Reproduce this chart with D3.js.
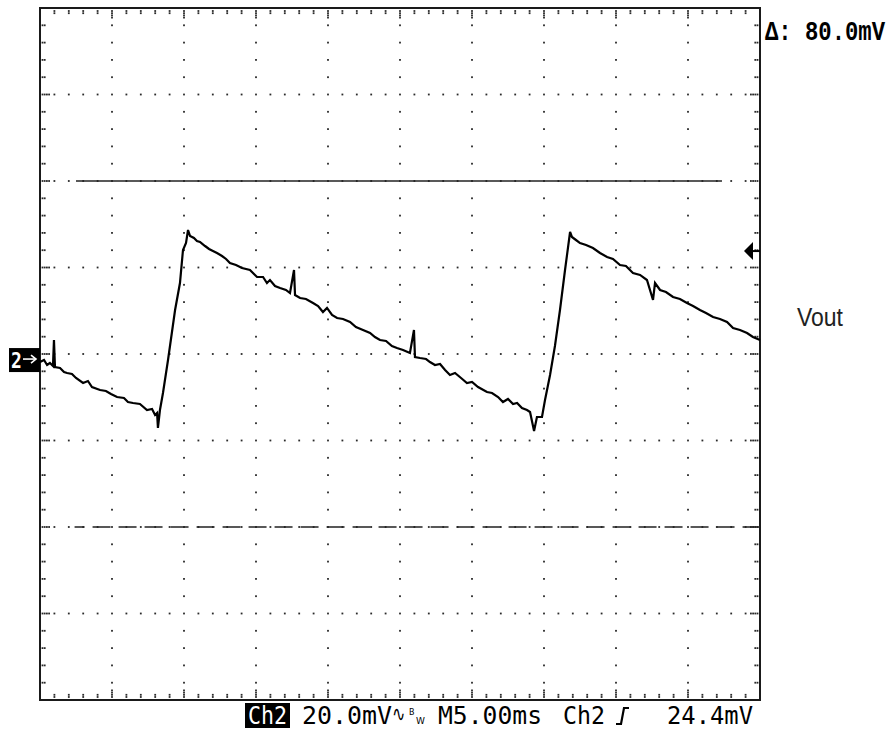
<!DOCTYPE html>
<html>
<head>
<meta charset="utf-8">
<script src="https://cdn.jsdelivr.net/npm/d3@7"></script>
<style>
  html, body { margin: 0; padding: 0; background: #ffffff; }
  svg { display: block; }
</style>
</head>
<body>
<svg id="chart" width="893" height="732"></svg>
<script>
// ---------------- DATA ----------------
// time axis (ms) : 10 divisions of 5 ms ; voltage axis (mV) : 8 divisions of 20 mV
const timeDomain = [0, 50];
const voltDomain = [-80, 80];
const timePerDiv = 5;
const voltPerDiv = 20;
const minorPerDiv = 5;

// Vout trace: [time ms, voltage mV]
const traceTime = [
  0, 0.28, 0.49, 0.69, 0.90, 0.97, 1.04, 1.39, 1.67, 1.88, 2.22, 2.50, 2.99, 3.33, 3.61, 4.17, 4.58, 4.93, 5.35, 5.83,
  6.11, 6.46, 6.94, 7.43, 7.78, 7.99, 8.13, 8.19, 8.33, 8.54, 8.89, 9.38, 9.72, 9.93, 10.14, 10.28, 10.42, 10.69, 10.90, 11.11,
  11.46, 11.74, 12.01, 12.29, 12.64, 12.92, 13.19, 13.61, 14.03, 14.58, 15.07, 15.49, 15.76, 15.97, 16.32, 16.67, 17.08, 17.36, 17.64, 17.71,
  18.06, 18.47, 18.96, 19.31, 19.65, 19.93, 20.28, 20.63, 21.04, 21.53, 21.94, 22.43, 22.92, 23.26, 23.61, 24.03, 24.44, 24.79, 25.21, 25.69,
  25.97, 26.04, 26.39, 26.81, 27.08, 27.43, 27.78, 28.13, 28.47, 28.82, 29.24, 29.65, 30.00, 30.42, 31.04, 31.39, 31.81, 32.15, 32.50, 32.85,
  33.13, 33.47, 33.82, 34.03, 34.31, 34.51, 34.86, 35.07, 35.42, 35.76, 36.11, 36.46, 36.81, 36.94, 37.22, 37.50, 37.92, 38.40, 38.89, 39.38,
  39.79, 40.28, 40.69, 41.18, 41.67, 42.15, 42.57, 42.71, 43.06, 43.47, 43.96, 44.44, 44.93, 45.35, 45.83, 46.25, 46.74, 47.22, 47.71, 48.13,
  48.61, 49.10, 49.51, 50.00
];
const traceVolt = [
  -1.85, -1.39, -2.54, -2.08, -2.77, 3.24, -3.01, -3.24, -4.16, -4.39, -4.62, -5.55, -6.71, -6.24, -7.63, -8.32, -8.55, -9.25, -9.94, -10.17,
  -11.10, -11.33, -11.56, -12.95, -12.72, -14.10, -13.64, -17.11, -12.95, -9.02, -1.39, 10.17, 16.42, 24.05, 25.66, 28.67, 27.28, 26.82, 26.13, 25.90,
  24.97, 24.28, 23.82, 23.35, 22.66, 21.97, 21.04, 20.58, 19.88, 19.42, 17.80, 17.80, 16.42, 17.11, 15.72, 15.26, 14.80, 14.10, 19.42, 13.64,
  12.95, 12.72, 11.79, 11.10, 9.71, 10.64, 9.02, 8.32, 8.09, 7.40, 6.24, 5.55, 4.86, 3.93, 3.24, 3.01, 1.85, 1.39, 0.92, 0.23,
  5.55, -0.69, -0.92, -1.16, -1.85, -2.54, -2.31, -3.70, -4.86, -4.39, -5.55, -6.71, -6.47, -7.63, -8.79, -9.02, -9.94, -11.10, -10.40, -11.56,
  -11.33, -12.49, -12.95, -13.41, -17.80, -14.57, -14.57, -10.64, -4.86, 1.85, 10.17, 19.42, 28.21, 27.05, 26.36, 25.66, 25.20, 24.51, 23.35, 22.43,
  21.97, 20.58, 20.35, 18.73, 18.27, 17.11, 12.49, 16.42, 14.80, 14.34, 13.18, 12.72, 11.79, 11.10, 10.17, 9.48, 8.55, 8.09, 7.40, 6.01,
  5.55, 4.86, 3.93, 3.24
];

// cursors (mV) and their visible time spans (ms)
const cursorLevels = [40, -40];
const cursorSolidSpan = [2.5, 47.36];
const cursorDashSpan = [2.4, 50];
const groundLevel = -1.4;     // channel 2 ground marker (mV)
const triggerLevel = 23.8;    // trigger arrow (mV)

// texts
const deltaLabel = "\u0394: 80.0mV";
const channelLabel = "Vout";
const statusTexts = ["Ch2", "20.0mV", "M5.00ms", "Ch2", "24.4mV"];

// ---------------- DRAW ----------------
const svg = d3.select("#chart");
const x = d3.scaleLinear().domain(timeDomain).range([40, 760]);
const y = d3.scaleLinear().domain(voltDomain).range([700, 8]);

const ink = "#1a1a1a";
const dotColor = "#2a2a2a";
const g = svg.append("g");

// graticule dots
const majorT = d3.range(timeDomain[0], timeDomain[1] + 0.001, timePerDiv);
const majorV = d3.range(voltDomain[0], voltDomain[1] + 0.001, voltPerDiv);
const minorT = d3.range(timeDomain[0], timeDomain[1] + 0.001, timePerDiv / minorPerDiv);
const minorV = d3.range(voltDomain[0], voltDomain[1] + 0.001, voltPerDiv / minorPerDiv);

const dots = [];
majorV.slice(1, -1).forEach(v => minorT.slice(1, -1).forEach(t => dots.push([x(t), y(v)])));
majorT.slice(1, -1).forEach(t => minorV.slice(1, -1).forEach(v => {
  if (!majorV.some(m => Math.abs(m - v) < 1e-6)) dots.push([x(t), y(v)]);
}));
// border ticks
const isMajorT = t => majorT.some(m => Math.abs(m - t) < 1e-6);
const isMajorV = v => majorV.some(m => Math.abs(m - v) < 1e-6);
minorT.slice(1, -1).forEach(t => {
  const n = isMajorT(t) ? 4 : 2;
  for (let i = 0; i < n; i++) {
    dots.push([x(t), y(voltDomain[1]) + 3 + i * 2.2]);
    dots.push([x(t), y(voltDomain[0]) - 3 - i * 2.2]);
  }
});
minorV.slice(1, -1).forEach(v => {
  const n = isMajorV(v) ? 4 : 2;
  for (let i = 0; i < n; i++) {
    dots.push([x(timeDomain[0]) + 2.5 + i * 2.2, y(v)]);
    dots.push([x(timeDomain[1]) - 2.5 - i * 2.2, y(v)]);
  }
});
g.append("g").selectAll("rect").data(dots).join("rect")
  .attr("x", d => d[0] - 0.9).attr("y", d => d[1] - 0.9)
  .attr("width", 1.8).attr("height", 1.8).attr("fill", dotColor);

// frame
g.append("rect")
  .attr("x", x(timeDomain[0])).attr("y", y(voltDomain[1]))
  .attr("width", x(timeDomain[1]) - x(timeDomain[0]))
  .attr("height", y(voltDomain[0]) - y(voltDomain[1]))
  .attr("fill", "none").attr("stroke", ink).attr("stroke-width", 2);

// cursors
g.append("line")
  .attr("x1", x(cursorSolidSpan[0])).attr("x2", x(cursorSolidSpan[1]))
  .attr("y1", y(cursorLevels[0])).attr("y2", y(cursorLevels[0]))
  .attr("stroke", "#222").attr("stroke-width", 1.5);
g.append("line")
  .attr("x1", x(cursorDashSpan[0])).attr("x2", x(cursorDashSpan[1]))
  .attr("y1", y(cursorLevels[1])).attr("y2", y(cursorLevels[1]))
  .attr("stroke", "#222").attr("stroke-width", 1.6)
  .attr("stroke-dasharray", "18,8").attr("stroke-dashoffset", 8);

// trace
const trace = traceTime.map((t, i) => [t, traceVolt[i]]);
g.append("path").datum(trace)
  .attr("d", d3.line().x(d => x(d[0])).y(d => y(d[1])))
  .attr("fill", "none").attr("stroke", "#000").attr("stroke-width", 2.2)
  .attr("stroke-linejoin", "miter");

// ground marker "2→"
const gy = y(groundLevel);
g.append("rect").attr("x", 9).attr("y", gy - 12).attr("width", 31).attr("height", 24).attr("fill", "#000");
g.append("text").attr("transform", `translate(11,${gy + 8}) scale(1,1.2)`)
  .attr("font-family", "DejaVu Sans Mono").attr("font-size", 18).attr("font-weight", "bold")
  .attr("fill", "#fff").text("2");
g.append("line").attr("x1", 23).attr("x2", 36).attr("y1", gy - 1).attr("y2", gy - 1)
  .attr("stroke", "#fff").attr("stroke-width", 1.6);
g.append("path").attr("d", `M31,${gy - 5} L36,${gy - 1} L31,${gy + 3}`)
  .attr("fill", "none").attr("stroke", "#fff").attr("stroke-width", 1.6);

// trigger arrow at right edge
const ty = y(triggerLevel);
g.append("path").attr("d", `M744,${ty} L753,${ty - 9} L753,${ty + 9} Z`).attr("fill", "#000");
g.append("line").attr("x1", 750).attr("x2", 760).attr("y1", ty).attr("y2", ty)
  .attr("stroke", "#000").attr("stroke-width", 2);

// Δ label
g.append("text").attr("transform", "translate(765,40) scale(1,1.25)")
  .attr("font-family", "Liberation Mono").attr("font-size", 22).attr("font-weight", "bold")
  .attr("textLength", 120).attr("lengthAdjust", "spacingAndGlyphs")
  .attr("fill", "#000").text(deltaLabel);

// channel label
g.append("text").attr("transform", "translate(797,326) scale(1,1.25)")
  .attr("font-family", "Liberation Sans").attr("font-size", 21)
  .attr("textLength", 46).attr("lengthAdjust", "spacingAndGlyphs")
  .attr("fill", "#222").text(channelLabel);

// status line
const statusY = 724;
g.append("rect").attr("x", 245).attr("y", 703).attr("width", 45).attr("height", 25).attr("fill", "#000");
const statusPos = [[248, 39], [302, 90], [438, 104], [563, 42], [667, 86]];
statusTexts.forEach((s, i) => {
  g.append("text").attr("transform", `translate(${statusPos[i][0]},${statusY}) scale(1,1.4)`)
    .attr("font-family", "DejaVu Sans Mono").attr("font-size", 18)
    .attr("textLength", statusPos[i][1]).attr("lengthAdjust", "spacingAndGlyphs")
    .attr("fill", i === 0 ? "#fff" : "#000").text(s);
});
// bandwidth-limit symbol
g.append("text").attr("transform", `translate(392,${statusY - 3}) scale(1,1.3)`)
  .attr("font-family", "DejaVu Sans").attr("font-size", 16).attr("fill", "#000").text("\u223F");
g.append("text").attr("x", 409).attr("y", 715)
  .attr("font-family", "DejaVu Sans").attr("font-size", 8).attr("fill", "#000").text("B");
g.append("text").attr("x", 416).attr("y", 724)
  .attr("font-family", "DejaVu Sans").attr("font-size", 9).attr("fill", "#000").text("W");
// rising-edge trigger symbol
g.append("path").attr("d", "M616,724 L621,724 L624,708 L629,708")
  .attr("fill", "none").attr("stroke", "#000").attr("stroke-width", 2.2);
</script>
</body>
</html>
